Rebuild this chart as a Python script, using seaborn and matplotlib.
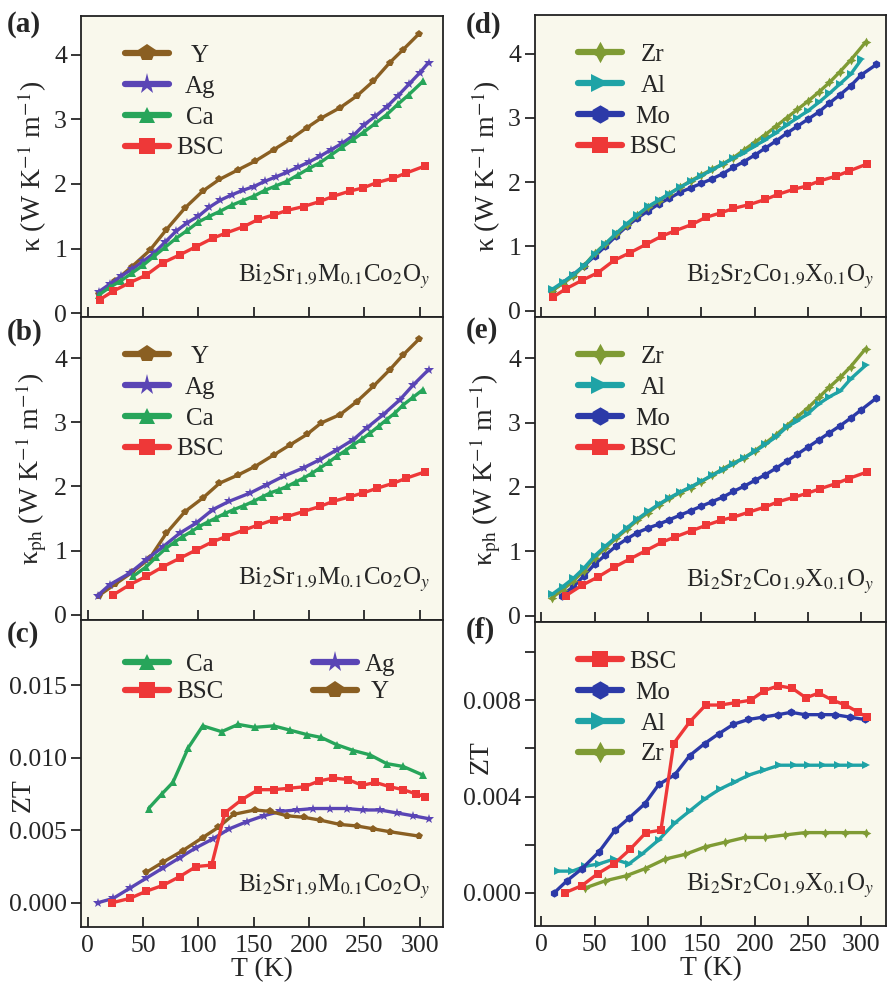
import numpy as np
import pandas as pd
import matplotlib
matplotlib.use("Agg")
import matplotlib.pyplot as plt
from matplotlib.lines import Line2D
from matplotlib.ticker import MultipleLocator, FormatStrFormatter
import seaborn as sns

# ---------------- data ----------------
# (a) kappa, Bi2Sr1.9M0.1Co2Oy
Y_T = [10, 25, 40, 56, 71, 88, 104, 119, 136, 151, 168, 183, 198, 211, 228, 243, 258, 273, 285, 299]
Y_k = [0.30, 0.50, 0.72, 0.97, 1.29, 1.63, 1.89, 2.07, 2.22, 2.35, 2.53, 2.69, 2.87, 3.02, 3.18, 3.36, 3.59, 3.88, 4.08, 4.32]
Ag_T = [10, 20, 30, 40, 50, 60, 70, 80, 90, 100, 110, 120, 130, 140, 150, 160, 170, 180, 190, 200,
        210, 220, 230, 240, 250, 260, 270, 280, 290, 300, 308]
Ag_k = [0.33, 0.45, 0.57, 0.68, 0.80, 0.93, 1.10, 1.27, 1.40, 1.50, 1.64, 1.75, 1.83, 1.90, 1.96, 2.04,
        2.11, 2.18, 2.26, 2.34, 2.43, 2.53, 2.63, 2.75, 2.92, 3.05, 3.19, 3.36, 3.54, 3.72, 3.88]
Ca_T = [10, 20, 30, 40, 50, 60, 70, 80, 90, 100, 110, 120, 130, 140, 150, 160, 170, 180, 190, 200,
        210, 220, 230, 240, 250, 260, 270, 280, 290, 303]
Ca_k = [0.28, 0.40, 0.50, 0.62, 0.74, 0.88, 1.02, 1.16, 1.28, 1.41, 1.50, 1.58, 1.67, 1.74, 1.81, 1.90,
        1.97, 2.04, 2.14, 2.24, 2.33, 2.45, 2.57, 2.69, 2.81, 2.94, 3.07, 3.23, 3.38, 3.59]
BSC_kT = [11, 23, 38, 53, 68, 83, 98, 113, 125, 141, 154, 168, 180, 195, 210, 222, 237, 249, 261, 276, 288, 305]
BSC_k = [0.21, 0.34, 0.47, 0.59, 0.78, 0.90, 1.03, 1.16, 1.24, 1.34, 1.45, 1.52, 1.59, 1.65, 1.73, 1.81,
         1.89, 1.94, 2.02, 2.09, 2.17, 2.28]

# (b) kappa_ph
Y_kph = [0.30, 0.48, 0.66, 0.88, 1.27, 1.61, 1.82, 2.05, 2.18, 2.31, 2.49, 2.65, 2.81, 2.99, 3.12, 3.32, 3.56, 3.82, 4.05, 4.29]
Ag_phT = [9, 20, 38, 53, 68, 83, 98, 113, 128, 147, 162, 177, 195, 210, 225, 240, 252, 267, 282, 294, 308]
Ag_kph = [0.30, 0.47, 0.65, 0.86, 1.06, 1.27, 1.43, 1.64, 1.77, 1.90, 2.03, 2.16, 2.29, 2.42, 2.57, 2.73,
          2.91, 3.12, 3.35, 3.58, 3.82]
Ca_phT = [41, 53, 62, 71, 79, 86, 94, 101, 109, 116, 124, 132, 141, 150, 158, 165, 173, 180, 188, 195,
          203, 210, 218, 225, 233, 240, 248, 255, 263, 270, 278, 285, 294, 303]
Ca_kph = [0.60, 0.75, 0.90, 1.04, 1.14, 1.22, 1.30, 1.38, 1.45, 1.51, 1.58, 1.64, 1.70, 1.77, 1.84, 1.90,
          1.95, 2.00, 2.07, 2.13, 2.21, 2.29, 2.38, 2.47, 2.56, 2.65, 2.74, 2.83, 2.94, 3.04, 3.15, 3.27,
          3.39, 3.51]
BSC_phT = [23, 38, 53, 68, 83, 98, 113, 125, 141, 154, 168, 180, 195, 210, 222, 237, 249, 261, 276, 288, 305]
BSC_kph = [0.31, 0.47, 0.60, 0.75, 0.88, 1.01, 1.14, 1.22, 1.32, 1.40, 1.48, 1.53, 1.61, 1.69, 1.77, 1.84,
           1.90, 1.97, 2.05, 2.13, 2.23]

# (c) ZT
Ca_zT = [55, 67, 77, 91, 104, 121, 136, 151, 168, 183, 198, 211, 225, 240, 255, 270, 285, 303]
Ca_zt = [0.0065, 0.0075, 0.0083, 0.0107, 0.0122, 0.0118, 0.0123, 0.0121, 0.0122, 0.0119, 0.0116, 0.0114,
         0.0109, 0.0105, 0.0102, 0.0096, 0.0094, 0.0088]
BSC_zT = [22, 38, 53, 68, 83, 98, 112, 124, 139, 154, 168, 182, 196, 209, 222, 235, 248, 260, 273, 285, 297, 305]
BSC_zt = [0.0000, 0.0003, 0.0008, 0.0012, 0.0018, 0.0025, 0.0026, 0.0062, 0.0071, 0.0078, 0.0078, 0.0079,
          0.0080, 0.0084, 0.0086, 0.0085, 0.0081, 0.0083, 0.0080, 0.0078, 0.0075, 0.0073]
Ag_zT = [9, 23, 38, 53, 68, 83, 98, 113, 128, 144, 159, 174, 189, 204, 219, 234, 249, 264, 279, 294, 308]
Ag_zt = [0.0000, 0.0003, 0.0010, 0.0017, 0.0024, 0.0031, 0.0038, 0.0044, 0.0051, 0.0056, 0.0060, 0.0063,
         0.0064, 0.0065, 0.0065, 0.0065, 0.0064, 0.0064, 0.0062, 0.0060, 0.0058]
Y_zT = [53, 68, 86, 104, 118, 132, 151, 165, 180, 195, 210, 228, 243, 258, 273, 299]
Y_zt = [0.0021, 0.0028, 0.0036, 0.0045, 0.0052, 0.0061, 0.0064, 0.0063, 0.0060, 0.0059, 0.0057, 0.0054,
        0.0053, 0.0051, 0.0049, 0.0046]

# (d) kappa, Bi2Sr2Co1.9X0.1Oy
T10 = [10, 20, 30, 40, 50, 60, 70, 80, 90, 100, 110, 120, 130, 140, 150, 160, 170, 180, 190, 200,
       210, 220, 230, 240, 250, 260, 270, 280, 290, 300]
Zr_T = [10, 20, 30, 40, 50, 60, 70, 80, 90, 100, 110, 120, 130, 140, 150, 160, 170, 180, 190, 200,
        210, 220, 230, 240, 250, 260, 270, 280, 290, 304]
Zr_k = [0.31, 0.42, 0.54, 0.70, 0.89, 1.04, 1.19, 1.33, 1.48, 1.61, 1.71, 1.82, 1.92, 2.02, 2.11, 2.20,
        2.28, 2.38, 2.50, 2.62, 2.74, 2.87, 3.00, 3.13, 3.26, 3.40, 3.55, 3.72, 3.90, 4.18]
Al_k = [0.33, 0.44, 0.56, 0.70, 0.88, 1.04, 1.20, 1.35, 1.49, 1.62, 1.72, 1.82, 1.92, 2.01, 2.10, 2.19,
        2.28, 2.37, 2.46, 2.56, 2.66, 2.77, 2.89, 3.00, 3.11, 3.24, 3.38, 3.53, 3.68, 3.91]
Mo_T = [10, 20, 30, 40, 50, 60, 70, 80, 90, 100, 110, 120, 130, 140, 150, 160, 170, 180, 190, 200,
        210, 220, 230, 240, 250, 260, 270, 280, 290, 300, 314]
Mo_k = [0.31, 0.43, 0.56, 0.70, 0.85, 1.00, 1.16, 1.31, 1.44, 1.55, 1.66, 1.75, 1.84, 1.91, 1.98, 2.05,
        2.13, 2.23, 2.32, 2.42, 2.53, 2.64, 2.76, 2.87, 2.98, 3.09, 3.23, 3.36, 3.50, 3.67, 3.83]

# (e) kappa_ph
Zr_kph = [0.28, 0.40, 0.54, 0.70, 0.90, 1.05, 1.20, 1.34, 1.48, 1.60, 1.72, 1.82, 1.91, 1.99, 2.08, 2.18,
          2.28, 2.37, 2.45, 2.56, 2.68, 2.81, 2.95, 3.09, 3.23, 3.39, 3.55, 3.70, 3.87, 4.15]
Al_phT = Zr_T
Al_kph = [0.33, 0.45, 0.58, 0.74, 0.93, 1.08, 1.22, 1.36, 1.50, 1.62, 1.73, 1.83, 1.92, 2.00, 2.09, 2.18,
          2.27, 2.36, 2.45, 2.55, 2.66, 2.78, 2.93, 3.03, 3.14, 3.29, 3.40, 3.49, 3.68, 3.89]
Mo_phT = [19, 30, 40, 50, 60, 70, 80, 90, 100, 110, 120, 130, 140, 150, 160, 170, 180, 190, 200,
          210, 220, 230, 240, 250, 260, 270, 280, 290, 300, 314]
Mo_kph = [0.31, 0.45, 0.62, 0.80, 0.94, 1.08, 1.19, 1.29, 1.36, 1.42, 1.49, 1.56, 1.63, 1.70, 1.77, 1.84,
          1.93, 2.01, 2.10, 2.19, 2.29, 2.40, 2.51, 2.62, 2.73, 2.84, 2.95, 3.07, 3.20, 3.38]

# (f) ZT
Mo_zT = [12, 24, 38, 54, 69, 82, 97, 110, 125, 139, 153, 166, 180, 194, 208, 222, 234, 247, 262, 275, 289, 303]
Mo_zt = [0.0000, 0.0005, 0.0010, 0.0017, 0.0026, 0.0031, 0.0037, 0.0045, 0.0049, 0.0057, 0.0062, 0.0066,
         0.0070, 0.0072, 0.0073, 0.0074, 0.0075, 0.0074, 0.0074, 0.0074, 0.0073, 0.0072]
Al_zT = [16, 29, 41, 54, 68, 82, 94, 110, 125, 139, 153, 167, 181, 195, 209, 223, 237, 250, 264, 278, 290, 304]
Al_zt = [0.0009, 0.0009, 0.0011, 0.0012, 0.0014, 0.0012, 0.0016, 0.0022, 0.0029, 0.0034, 0.0039, 0.0043,
         0.0046, 0.0049, 0.0051, 0.0053, 0.0053, 0.0053, 0.0053, 0.0053, 0.0053, 0.0053]
Zr_zT = [41, 60, 79, 97, 116, 135, 153, 172, 191, 210, 228, 247, 266, 285, 304]
Zr_zt = [0.0002, 0.0005, 0.0007, 0.0010, 0.0014, 0.0016, 0.0019, 0.0021, 0.0023, 0.0023, 0.0024, 0.0025,
         0.0025, 0.0025, 0.0025]

# ---------------- style ----------------
sns.set_style("ticks")
plt.rcParams["font.family"] = ["Liberation Serif", "DejaVu Serif"]
plt.rcParams["mathtext.fontset"] = "stix"
plt.rcParams["axes.linewidth"] = 1.3

FS_TICK = 18.5
FS_LEG = 18
FS_LAB = 20
COL = {"Y": "#8a5f22", "Ag": "#5a45b5", "Ca": "#27a55a", "BSC": "#ee3838",
       "Zr": "#7f9b34", "Al": "#1fa3a6", "Mo": "#2c3aa8"}
STAR4 = (4, 1, 0)
MK = {"Y": "p", "Ag": "*", "Ca": "^", "BSC": "s", "Zr": STAR4, "Al": ">", "Mo": "h"}
MS = {"Y": 6, "Ag": 7, "Ca": 5.5, "BSC": 5.5, "Zr": 7, "Al": 6, "Mo": 6}
FACE = "#f9f8ec"

fig = plt.figure(figsize=(8.88, 9.94), dpi=100)
W, H = 888.0, 994.0


def mk_ax(x0, x1, y0, y1):
    return fig.add_axes([x0 / W, 1 - y1 / H, (x1 - x0) / W, (y1 - y0) / H])


axa = mk_ax(81, 443, 16, 317)
axb = mk_ax(81, 443, 317, 620)
axc = mk_ax(81, 443, 620, 927)
axd = mk_ax(535, 886, 15, 317)
axe = mk_ax(535, 886, 317, 622)
axf = mk_ax(535, 886, 622, 926)


def draw(ax, name, T, v):
    sns.lineplot(x=T, y=v, ax=ax, color=COL[name], marker=MK[name], markersize=MS[name],
                 markeredgewidth=0, linewidth=2.4, legend=False, sort=False, zorder=3)


def handle(name):
    return Line2D([], [], color=COL[name], marker=MK[name], markersize=MS[name] * 2.2,
                  markeredgewidth=0, linewidth=4.5, label=name)


def style(ax, xlim, ylim, xlabels=False):
    ax.set_facecolor(FACE)
    ax.set_xlim(*xlim)
    ax.set_ylim(*ylim)
    ax.xaxis.set_major_locator(MultipleLocator(50))
    ax.tick_params(axis="x", direction="in", length=7, width=1.3, labelsize=FS_TICK,
                   labelbottom=xlabels, bottom=True, top=False, pad=6)
    ax.tick_params(axis="y", direction="out", length=7, width=1.3, labelsize=FS_TICK, right=False, pad=3)
    for s in ax.spines.values():
        s.set_visible(True)
        s.set_color("#222222")
    ax.set_xlabel("")
    ax.set_ylabel("")


kap_lab = r"κ (W K$^{-1}$ m$^{-1}$)"
kph_lab = r"κ$_{\rm ph}$ (W K$^{-1}$ m$^{-1}$)"
formM = r"Bi$_2$Sr$_{1.9}$M$_{0.1}$Co$_2$O$_y$"
formX = r"Bi$_2$Sr$_2$Co$_{1.9}$X$_{0.1}$O$_y$"

# (a)
draw(axa, "Y", Y_T, Y_k)
draw(axa, "Ag", Ag_T, Ag_k)
draw(axa, "Ca", Ca_T, Ca_k)
draw(axa, "BSC", BSC_kT, BSC_k)
style(axa, (-6, 321), (-0.06, 4.6))
axa.yaxis.set_major_locator(MultipleLocator(1))
# (b)
draw(axb, "Y", Y_T, Y_kph)
draw(axb, "Ag", Ag_phT, Ag_kph)
draw(axb, "Ca", Ca_phT, Ca_kph)
draw(axb, "BSC", BSC_phT, BSC_kph)
style(axb, (-6, 321), (-0.08, 4.64))
axb.yaxis.set_major_locator(MultipleLocator(1))
# (c)
draw(axc, "Ca", Ca_zT, Ca_zt)
draw(axc, "Ag", Ag_zT, Ag_zt)
draw(axc, "Y", Y_zT, Y_zt)
draw(axc, "BSC", BSC_zT, BSC_zt)
style(axc, (-6, 321), (-0.00167, 0.0195), xlabels=True)
axc.yaxis.set_major_locator(MultipleLocator(0.005))
axc.yaxis.set_major_formatter(FormatStrFormatter("%.3f"))
# (d)
draw(axd, "Mo", Mo_T, Mo_k)
draw(axd, "Zr", Zr_T, Zr_k)
draw(axd, "Al", T10, Al_k)
draw(axd, "BSC", BSC_kT, BSC_k)
style(axd, (-6, 323), (-0.1, 4.6))
axd.yaxis.set_major_locator(MultipleLocator(1))
# (e)
draw(axe, "Mo", Mo_phT, Mo_kph)
draw(axe, "Zr", Zr_T, Zr_kph)
draw(axe, "Al", Al_phT, Al_kph)
draw(axe, "BSC", BSC_phT, BSC_kph)
style(axe, (-6, 323), (-0.1, 4.64))
axe.yaxis.set_major_locator(MultipleLocator(1))
# (f)
draw(axf, "Zr", Zr_zT, Zr_zt)
draw(axf, "Al", Al_zT, Al_zt)
draw(axf, "Mo", Mo_zT, Mo_zt)
draw(axf, "BSC", BSC_zT, BSC_zt)
style(axf, (-6, 323), (-0.00138, 0.01125), xlabels=True)
axf.yaxis.set_major_locator(MultipleLocator(0.004))
axf.yaxis.set_minor_locator(MultipleLocator(0.002))
axf.yaxis.set_major_formatter(FormatStrFormatter("%.3f"))
axf.tick_params(axis="y", which="minor", direction="out", length=7, width=1.3)

# legends
leg_kw = dict(frameon=False, fontsize=FS_LEG, handlelength=1.75, handletextpad=0.3,
              borderaxespad=0.2)
legends = []
for ax, names in [(axa, ["Y", "Ag", "Ca", "BSC"]), (axb, ["Y", "Ag", "Ca", "BSC"]),
                  (axd, ["Zr", "Al", "Mo", "BSC"]), (axe, ["Zr", "Al", "Mo", "BSC"]),
                  (axf, ["BSC", "Mo", "Al", "Zr"])]:
    lg = ax.legend(handles=[handle(n) for n in names], loc="upper left",
                   bbox_to_anchor=(0.08, 0.955), labelspacing=0.33, **leg_kw)
    legends.append((lg, [[0, 1, 2, 3]]))
lgc = axc.legend(handles=[handle(n) for n in ["Ca", "BSC", "Ag", "Y"]], loc="upper left",
                 bbox_to_anchor=(0.08, 0.94), ncol=2, columnspacing=3.6, labelspacing=0.2, **leg_kw)
legends.append((lgc, [[0, 1], [2, 3]]))

# formula annotations
for ax, txt in [(axa, formM), (axb, formM), (axc, formM), (axd, formX), (axe, formX), (axf, formX)]:
    ax.text(0.965, 0.085, txt, transform=ax.transAxes, ha="right", va="bottom", fontsize=FS_LEG)

# axis labels
for ax, lab in [(axa, kap_lab), (axb, kph_lab), (axd, kap_lab), (axe, kph_lab)]:
    ax.set_ylabel(lab, fontsize=FS_LAB, labelpad=4)
axc.set_ylabel("ZT", fontsize=FS_LAB)
axc.yaxis.set_label_coords(-0.125, 0.43)
axf.set_ylabel("ZT", fontsize=FS_LAB)
axf.yaxis.set_label_coords(-0.118, 0.556)
for ax in (axc, axf):
    ax.set_xlabel("T (K)", fontsize=FS_LAB, labelpad=0)

# panel letters
for lab, (px, py) in {"(a)": (7, 25), "(b)": (7, 332), "(c)": (7, 634),
                      "(d)": (466, 25), "(e)": (466, 330), "(f)": (466, 630)}.items():
    fig.text(px / W, 1 - py / H, lab, fontsize=21, fontweight="bold", ha="left", va="center")

# centre legend labels within each column (as in the original figure)
fig.canvas.draw()
for lg, cols in legends:
    texts = lg.get_texts()
    for col in cols:
        widths = [texts[i].get_window_extent().width for i in col]
        mw = max(widths)
        for i, w in zip(col, widths):
            texts[i].set_x((mw - w) / 2.0)

fig.savefig("out.png", dpi=100, facecolor="white")
